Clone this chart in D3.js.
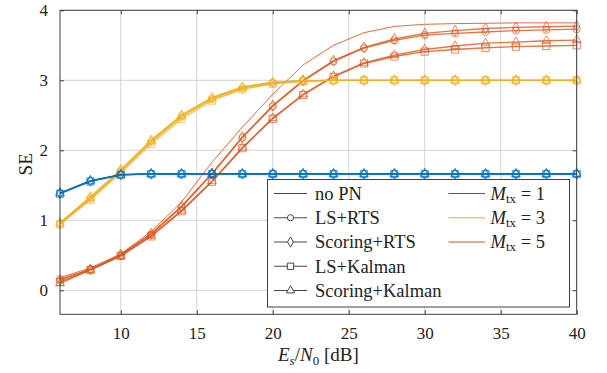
<!DOCTYPE html>
<html>
<head>
<meta charset="utf-8">
<script src="https://cdn.jsdelivr.net/npm/d3@7"></script>
<style>
  body { margin: 0; background: #fff; }
</style>
</head>
<body>
<script>
// x positions (Es/N0 in dB)
const snr = [6, 8, 10, 12, 14, 16, 18, 20, 22, 24, 26, 28, 30, 32, 34, 36, 38, 40];

// M_tx = 1
const m1NoPN     = [1.39, 1.565, 1.655, 1.665, 1.665, 1.665, 1.665, 1.665, 1.665, 1.665, 1.665, 1.665, 1.665, 1.665, 1.665, 1.665, 1.665, 1.665];
const m1LsRts    = [1.385, 1.56, 1.65, 1.662, 1.662, 1.662, 1.662, 1.662, 1.662, 1.662, 1.662, 1.662, 1.662, 1.662, 1.662, 1.662, 1.662, 1.662];
const m1ScRts    = [1.39, 1.565, 1.652, 1.664, 1.664, 1.664, 1.664, 1.664, 1.664, 1.664, 1.664, 1.664, 1.664, 1.664, 1.664, 1.664, 1.664, 1.664];
const m1LsKal    = [1.38, 1.555, 1.648, 1.66, 1.66, 1.66, 1.66, 1.66, 1.66, 1.66, 1.66, 1.66, 1.66, 1.66, 1.66, 1.66, 1.66, 1.66];
const m1ScKal    = [1.385, 1.56, 1.65, 1.662, 1.662, 1.662, 1.662, 1.662, 1.662, 1.662, 1.662, 1.662, 1.662, 1.662, 1.662, 1.662, 1.662, 1.662];

// M_tx = 3
const m3NoPN     = [0.97, 1.34, 1.73, 2.15, 2.51, 2.76, 2.91, 2.975, 2.995, 3.0, 3.0, 3.0, 3.0, 3.0, 3.0, 3.0, 3.0, 3.0];
const m3LsRts    = [0.95, 1.31, 1.70, 2.12, 2.48, 2.73, 2.885, 2.96, 2.99, 3.0, 3.0, 3.0, 3.0, 3.0, 3.0, 3.0, 3.0, 3.0];
const m3ScRts    = [0.96, 1.33, 1.72, 2.14, 2.50, 2.75, 2.9, 2.97, 2.995, 3.0, 3.0, 3.0, 3.0, 3.0, 3.0, 3.0, 3.0, 3.0];
const m3LsKal    = [0.94, 1.29, 1.68, 2.09, 2.45, 2.71, 2.87, 2.95, 2.985, 2.998, 3.0, 3.0, 3.0, 3.0, 3.0, 3.0, 3.0, 3.0];
const m3ScKal    = [0.955, 1.32, 1.71, 2.13, 2.49, 2.74, 2.895, 2.965, 2.992, 3.0, 3.0, 3.0, 3.0, 3.0, 3.0, 3.0, 3.0, 3.0];

// M_tx = 5
const m5NoPN     = [0.18, 0.32, 0.52, 0.84, 1.26, 1.83, 2.33, 2.80, 3.22, 3.50, 3.68, 3.77, 3.80, 3.81, 3.815, 3.82, 3.82, 3.82];
const m5LsRts    = [0.16, 0.30, 0.50, 0.80, 1.19, 1.66, 2.18, 2.63, 2.99, 3.27, 3.46, 3.57, 3.645, 3.67, 3.69, 3.71, 3.72, 3.73];
const m5ScRts    = [0.14, 0.30, 0.51, 0.81, 1.20, 1.67, 2.19, 2.64, 3.00, 3.28, 3.47, 3.59, 3.67, 3.71, 3.74, 3.755, 3.765, 3.775];
const m5LsKal    = [0.12, 0.29, 0.49, 0.77, 1.13, 1.55, 2.03, 2.45, 2.79, 3.05, 3.24, 3.34, 3.41, 3.44, 3.465, 3.48, 3.49, 3.50];
const m5ScKal    = [0.10, 0.29, 0.49, 0.78, 1.14, 1.56, 2.04, 2.46, 2.80, 3.06, 3.25, 3.36, 3.44, 3.49, 3.53, 3.545, 3.565, 3.575];

const xTicks = [10, 15, 20, 25, 30, 35, 40];
const yTicks = [0, 1, 2, 3, 4];

const methodNames = ["no PN", "LS+RTS", "Scoring+RTS", "LS+Kalman", "Scoring+Kalman"];
const methodSymbols = [null, d3.symbolCircle, d3.symbolDiamond, d3.symbolSquare, d3.symbolTriangle];
const mtxValues = [1, 3, 5];
const mtxColors = ["#0072BD", "#EDB120", "#D95319"];

const groups = [
  { m: 5, color: mtxColors[2], series: [m5NoPN, m5LsRts, m5ScRts, m5LsKal, m5ScKal] },
  { m: 3, color: mtxColors[1], series: [m3NoPN, m3LsRts, m3ScRts, m3LsKal, m3ScKal] },
  { m: 1, color: mtxColors[0], series: [m1NoPN, m1LsRts, m1ScRts, m1LsKal, m1ScKal] }
];

const serif = "Liberation Serif";

const width = 607, height = 373;
const margin = { left: 60, right: 30.3, top: 10.3, bottom: 58.7 };
const innerW = width - margin.left - margin.right;
const innerH = height - margin.top - margin.bottom;

const x = d3.scaleLinear().domain([6, 40]).range([0, innerW]);
const y = d3.scaleLinear().domain([-0.343, 4]).range([innerH, 0]);

const svg = d3.select("body").append("svg")
  .attr("width", width)
  .attr("height", height);

const g = svg.append("g").attr("transform", `translate(${margin.left},${margin.top})`);

// grid
g.append("g")
  .selectAll("line")
  .data(xTicks)
  .join("line")
  .attr("x1", d => x(d)).attr("x2", d => x(d))
  .attr("y1", 0).attr("y2", innerH)
  .attr("stroke", "#d4d4d4").attr("stroke-width", 1);
g.append("g")
  .selectAll("line")
  .data(yTicks)
  .join("line")
  .attr("x1", 0).attr("x2", innerW)
  .attr("y1", d => y(d)).attr("y2", d => y(d))
  .attr("stroke", "#d4d4d4").attr("stroke-width", 1);

// axes (inward ticks)
const axisColor = "#404040";
const fmt = d3.format("d");
const xAxis = g.append("g").attr("transform", `translate(0,${innerH})`)
  .call(d3.axisBottom(x).tickValues(xTicks).tickFormat(fmt).tickSizeInner(-4).tickSizeOuter(0).tickPadding(13));
const xAxisTop = g.append("g")
  .call(d3.axisTop(x).tickValues(xTicks).tickSizeInner(-4).tickSizeOuter(0).tickFormat(""));
const yAxis = g.append("g")
  .call(d3.axisLeft(y).tickValues(yTicks).tickFormat(fmt).tickSizeInner(-4).tickSizeOuter(0).tickPadding(12));
const yAxisRight = g.append("g").attr("transform", `translate(${innerW},0)`)
  .call(d3.axisRight(y).tickValues(yTicks).tickSizeInner(-4).tickSizeOuter(0).tickFormat(""));

[xAxis, xAxisTop, yAxis, yAxisRight].forEach(a => {
  a.select(".domain").remove();
  a.selectAll("line").attr("stroke", axisColor);
  a.selectAll("text").attr("fill", "#222").attr("font-size", 17);
});

// series
const line = d3.line()
  .x((d, i) => x(snr[i]))
  .y(d => y(d));

const plot = g.append("g");

groups.forEach(grp => {
  grp.series.forEach((vals, k) => {
    plot.append("path")
      .datum(vals)
      .attr("fill", "none")
      .attr("stroke", grp.color)
      .attr("stroke-opacity", k === 0 ? 0.95 : 0.8)
      .attr("stroke-width", k === 0 ? 0.9 : 1.3)
      .attr("d", line);
  });
  grp.series.forEach((vals, k) => {
    if (!methodSymbols[k]) return;
    const sym = d3.symbol().type(methodSymbols[k])
      .size(methodSymbols[k] === d3.symbolSquare ? 52 : (methodSymbols[k] === d3.symbolCircle ? 40 : 34));
    plot.append("g")
      .selectAll("path")
      .data(vals)
      .join("path")
      .attr("transform", (d, i) => `translate(${x(snr[i])},${y(d)})`)
      .attr("d", sym)
      .attr("fill", "none")
      .attr("stroke", grp.color)
      .attr("stroke-opacity", 0.75)
      .attr("stroke-width", 0.9);
  });
});

// frame
g.append("rect")
  .attr("x", 0).attr("y", 0).attr("width", innerW).attr("height", innerH)
  .attr("fill", "none").attr("stroke", axisColor).attr("stroke-width", 1);

// axis titles
svg.append("text")
  .attr("transform", `translate(25,${margin.top + y(1.8)}) rotate(-90)`)
  .attr("text-anchor", "middle")
  .attr("dominant-baseline", "central")
  .attr("font-size", 19)
  .attr("fill", "#222")
  .text("SE");

const xt = svg.append("text")
  .attr("x", margin.left + innerW / 2)
  .attr("y", 361)
  .attr("text-anchor", "middle")
  .attr("font-size", 19)
  .attr("fill", "#222");
xt.append("tspan").attr("font-style", "italic").text("E");
xt.append("tspan").attr("dy", 4).attr("font-size", 13).attr("font-style", "italic").text("s");
xt.append("tspan").attr("dy", -4).text("/");
xt.append("tspan").attr("font-style", "italic").text("N");
xt.append("tspan").attr("dy", 4).attr("font-size", 13).text("0");
xt.append("tspan").attr("dy", -4).text(" [dB]");

// legend
const lg = svg.append("g").attr("transform", "translate(267.5,179.5)");
lg.append("rect")
  .attr("width", 302).attr("height", 127.5)
  .attr("fill", "#fff").attr("stroke", axisColor).attr("stroke-width", 1);

const rowY = d3.scaleLinear().domain([0, 4]).range([14, 111]);

methodNames.forEach((name, k) => {
  const row = lg.append("g").attr("transform", `translate(0,${rowY(k)})`);
  row.append("line")
    .attr("x1", 6.5).attr("x2", 39.5)
    .attr("stroke", "#333").attr("stroke-width", 0.9);
  if (methodSymbols[k]) {
    row.append("path")
      .attr("transform", "translate(23,0)")
      .attr("d", d3.symbol().type(methodSymbols[k]).size(methodSymbols[k] === d3.symbolSquare ? 40 : 30))
      .attr("fill", "#fff").attr("stroke", "#333").attr("stroke-width", 0.9);
  }
  row.append("text")
    .attr("x", 47.5)
    .attr("dy", "0.35em")
    .attr("font-size", 18.5)
    .attr("fill", "#222")
    .text(name);
});

mtxValues.forEach((m, k) => {
  const row = lg.append("g").attr("transform", `translate(0,${rowY(k)})`);
  row.append("line")
    .attr("x1", 181).attr("x2", 217.5)
    .attr("stroke", mtxColors[k]).attr("stroke-width", 1);
  const t = row.append("text")
    .attr("x", 223)
    .attr("dy", "0.35em")
    .attr("font-size", 18.5)
    .attr("fill", "#222");
  t.append("tspan").attr("font-style", "italic").text("M");
  t.append("tspan").attr("dy", 3).attr("font-size", 13).text("tx");
  t.append("tspan").attr("dy", -3).text(" = " + m);
});

// serif font on every text element
svg.selectAll("text").attr("font-family", serif);
</script>
</body>
</html>
